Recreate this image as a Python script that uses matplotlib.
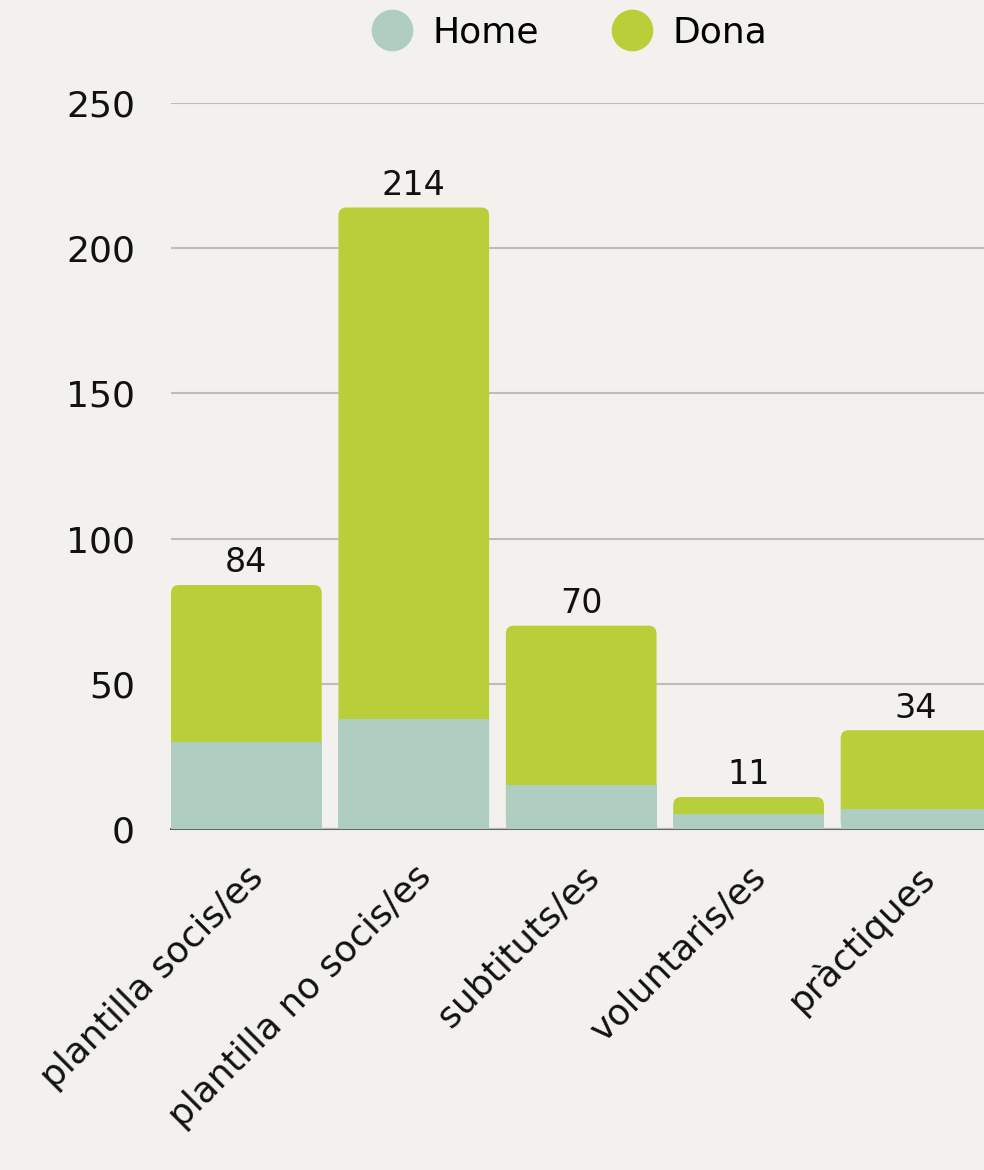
import matplotlib
matplotlib.use("Agg")
import matplotlib.pyplot as plt
from matplotlib.patches import FancyBboxPatch
from matplotlib.lines import Line2D

categories = ['plantilla socis/es', 'plantilla no socis/es', 'subtituts/es',
              'voluntaris/es', 'pràctiques']
home = [30, 38, 15, 5, 7]
dona = [54, 176, 55, 6, 27]
totals = [h + d for h, d in zip(home, dona)]

BG = '#f2f1ed'
HOME_C = '#b0cdc2'
DONA_C = '#b8cf3a'

plt.rcParams['font.family'] = ['DejaVu Sans']

fig = plt.figure(figsize=(9.84, 11.7), dpi=100, facecolor=BG)
ax = fig.add_axes([0.1738, 0.2915, 0.8262, 0.6205], facecolor=BG)

x = list(range(len(categories)))
width = 0.9
ax.set_xlim(-0.45, 4.406)
ax.set_ylim(0, 250)

# full bars (Dona on top) with rounded top corners
px_per_x = 0.8262 * 984 / (4.406 + 0.45)
px_per_y = 0.6205 * 1170 / 250
aspect = px_per_x / px_per_y
for xi, t in zip(x, totals):
    p = FancyBboxPatch((xi - width / 2, 0), width, t,
                       boxstyle='round,pad=0,rounding_size=%f' % (8 / px_per_x),
                       mutation_aspect=aspect, facecolor=DONA_C,
                       edgecolor='none', zorder=2)
    ax.add_patch(p)
home_bars = ax.bar(x, home, width=width, color=HOME_C, zorder=3)

# invisible bars to carry labels
tot_bars = ax.bar(x, totals, width=width, color='none', zorder=1)
ax.bar_label(tot_bars, labels=[str(t) for t in totals], padding=4,
             fontsize=24, color='#111111')

ax.yaxis.grid(True, color='#bdbcb7', linewidth=1.5, zorder=0)
ax.set_axisbelow(True)
ax.set_yticks([0, 50, 100, 150, 200, 250])
for s in ['top', 'right', 'left']:
    ax.spines[s].set_visible(False)
ax.spines['bottom'].set_color('#666666')
ax.spines['bottom'].set_linewidth(1.5)
ax.spines['bottom'].set_zorder(0.5)
ax.tick_params(axis='y', length=0, pad=26, labelsize=26, labelcolor='#111111')
ax.tick_params(axis='x', length=0, pad=22, labelsize=26, labelcolor='#111111')
ax.set_xticks(x)
ax.set_xticklabels(categories, rotation=45, ha='right', va='top',
                   rotation_mode='anchor')

handles = [Line2D([], [], marker='o', linestyle='none', markersize=30,
                  markerfacecolor=HOME_C, markeredgecolor='none'),
           Line2D([], [], marker='o', linestyle='none', markersize=30,
                  markerfacecolor=DONA_C, markeredgecolor='none')]
fig.legend(handles, ['Home', 'Dona'], loc='center', ncol=2,
           bbox_to_anchor=(0.578, 0.972), frameon=False, fontsize=26,
           handletextpad=0.5, columnspacing=2.0, handlelength=1.2)

fig.savefig('out.png', dpi=100, facecolor=BG)
